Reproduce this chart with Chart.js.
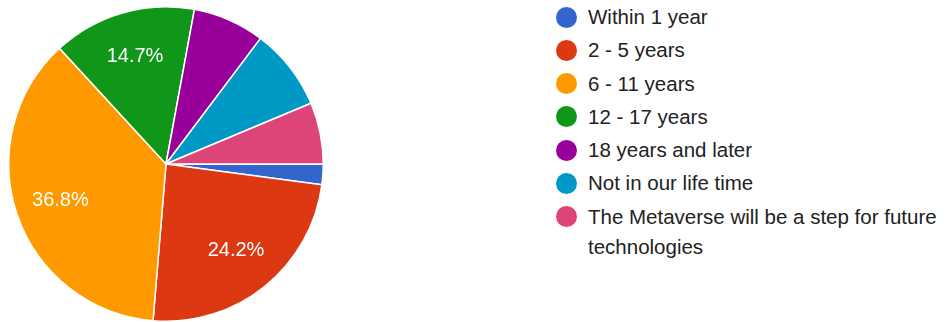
<!DOCTYPE html>
<html>
<head>
<meta charset="utf-8">
<script src="https://cdn.jsdelivr.net/npm/chart.js@4.4.1/dist/chart.umd.min.js"></script>
<style>
  html, body { margin: 0; padding: 0; background: #fff; }
  body { width: 948px; height: 322px; position: relative; overflow: hidden; font-family: "Liberation Sans", Arial, sans-serif; }
  #pieWrap { position: absolute; left: 0; top: 0; width: 332px; height: 322px; }
  #legend { position: absolute; left: 556px; top: 2px; width: 392px; margin: 0; padding: 0; list-style: none; }
  #legend li { display: flex; align-items: flex-start; margin-bottom: 3.3px; }
  #legend .dot { width: 21px; height: 21px; border-radius: 50%; flex: none; margin-top: 4.5px; margin-right: 11px; }
  #legend .txt { font-size: 20.5px; line-height: 30px; color: #222; width: 360px; }
</style>
</head>
<body>
<div id="pieWrap"><canvas id="pieChart"></canvas></div>
<ul id="legend"></ul>
<script>
// Answer categories
const categories = [
  "Within 1 year",
  "2 - 5 years",
  "6 - 11 years",
  "12 - 17 years",
  "18 years and later",
  "Not in our life time",
  "The Metaverse will be a step for future technologies"
];

// Responses per category (95 in total)
const responses = [2, 23, 35, 14, 7, 8, 6];

const sliceColors = ["#3366cc", "#dc3912", "#ff9900", "#109618", "#990099", "#0099c6", "#dd4477"];

const total = responses.reduce((a, b) => a + b, 0);

// Percent labels inside the larger slices
const sliceLabels = {
  id: "sliceLabels",
  afterDatasetsDraw(chart) {
    const ctx = chart.ctx;
    const meta = chart.getDatasetMeta(0);
    ctx.save();
    ctx.fillStyle = "#fff";
    ctx.font = '20px "Liberation Sans", Arial, sans-serif';
    ctx.textAlign = "center";
    ctx.textBaseline = "middle";
    meta.data.forEach((arc, i) => {
      const pct = responses[i] / total * 100;
      if (pct < 10) return;
      const mid = (arc.startAngle + arc.endAngle) / 2;
      const r = arc.outerRadius * 0.71;
      ctx.fillText(pct.toFixed(1) + "%", arc.x + Math.cos(mid) * r, arc.y + Math.sin(mid) * r);
    });
    ctx.restore();
  }
};

const ctx = document.getElementById("pieChart").getContext("2d");
const pieChart = new Chart(ctx, {
  type: "pie",
  data: {
    labels: categories,
    datasets: [{
      data: responses,
      backgroundColor: sliceColors,
      borderColor: "#fff",
      borderWidth: 1.5
    }]
  },
  options: {
    responsive: true,
    maintainAspectRatio: false,
    animation: false,
    rotation: 90,
    layout: { padding: { left: 8, top: 6, right: 8, bottom: 0 } },
    plugins: {
      legend: { display: false },
      tooltip: { enabled: false }
    }
  },
  plugins: [sliceLabels]
});

// HTML legend built from the chart's own legend items
const legendEl = document.getElementById("legend");
pieChart.options.plugins.legend.labels.generateLabels(pieChart).forEach(item => {
  const li = document.createElement("li");
  li.innerHTML = `<span class="dot" style="background:${item.fillStyle}"></span><span class="txt">${item.text}</span>`;
  legendEl.appendChild(li);
});
</script>
</body>
</html>
